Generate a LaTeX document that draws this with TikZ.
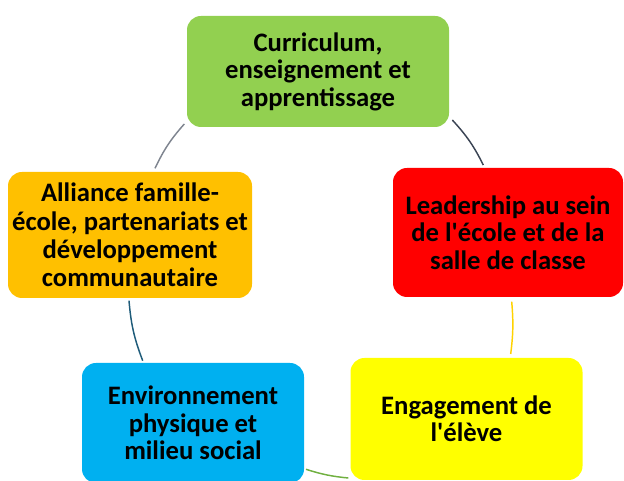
\documentclass[tikz,border=0pt]{standalone}
\usepackage{fontspec}
\setmainfont{Carlito}
\definecolor{vert}{HTML}{92D050}
\definecolor{rouge}{HTML}{FF0000}
\definecolor{jaune}{HTML}{FFFF00}
\definecolor{bleu}{HTML}{00B0F0}
\definecolor{orange}{HTML}{FFC000}
\definecolor{gris}{HTML}{7F8590}
\definecolor{ardoise}{HTML}{3B4454}
\definecolor{or}{HTML}{FFD200}
\definecolor{sarcelle}{HTML}{1F5C7A}
\definecolor{herbe}{HTML}{70B040}
\begin{document}
\begin{tikzpicture}[x=0.75pt,y=0.75pt,
  boite/.style={rectangle, rounded corners=10.5pt, align=center, inner sep=0pt,
    font=\fontsize{20}{20.6}\selectfont\bfseries},
  lien/.style={line width=1.1pt}]
\useasboundingbox (0,0) rectangle (624,481);
\node[boite, fill=vert, minimum width=196.5pt, minimum height=83.25pt] (cur) at (318,409.5) {Curriculum,\\enseignement et\\apprentissage};
\node[boite, fill=rouge, minimum width=172.5pt, minimum height=96.75pt] (lead) at (508,248.5) {Leadership au sein\\de l\textquotesingle école et de la\\salle de classe};
\node[boite, fill=jaune, minimum width=174pt, minimum height=91.5pt] (eng) at (466.5,62) {Engagement de\\l\textquotesingle élève};
\node[boite, fill=bleu, minimum width=166.5pt, minimum height=90pt] (env) at (193,58) {Environnement\\physique et\\milieu social};
\node[boite, fill=orange, minimum width=183pt, minimum height=94.5pt, font=\fontsize{20}{21.2}\selectfont\bfseries] (all) at (130,246) {Alliance famille-\\école, partenariats et\\développement\\communautaire};
% bouts des arcs
\coordinate (gr1) at (452.3,361);
\coordinate (gr2) at (483.3,316);
\coordinate (ry1) at (511.7,179.3);
\coordinate (ry2) at (510.7,127);
\coordinate (yb1) at (348.3,3);
\coordinate (yb2) at (306,11.7);
\coordinate (bo1) at (142.7,120.3);
\coordinate (bo2) at (129,180.3);
\coordinate (og1) at (155,312.7);
\coordinate (og2) at (184.3,357);
\draw[lien, draw=ardoise] (gr1) to[bend left=8] (gr2);
\draw[lien, draw=or] (ry1) to[bend left=6] (ry2);
\draw[lien, draw=herbe] (yb1) to[bend left=6] (yb2);
\draw[lien, draw=sarcelle] (bo1) to[bend left=8] (bo2);
\draw[lien, draw=gris] (og1) to[bend left=8] (og2);
\end{tikzpicture}
\end{document}
